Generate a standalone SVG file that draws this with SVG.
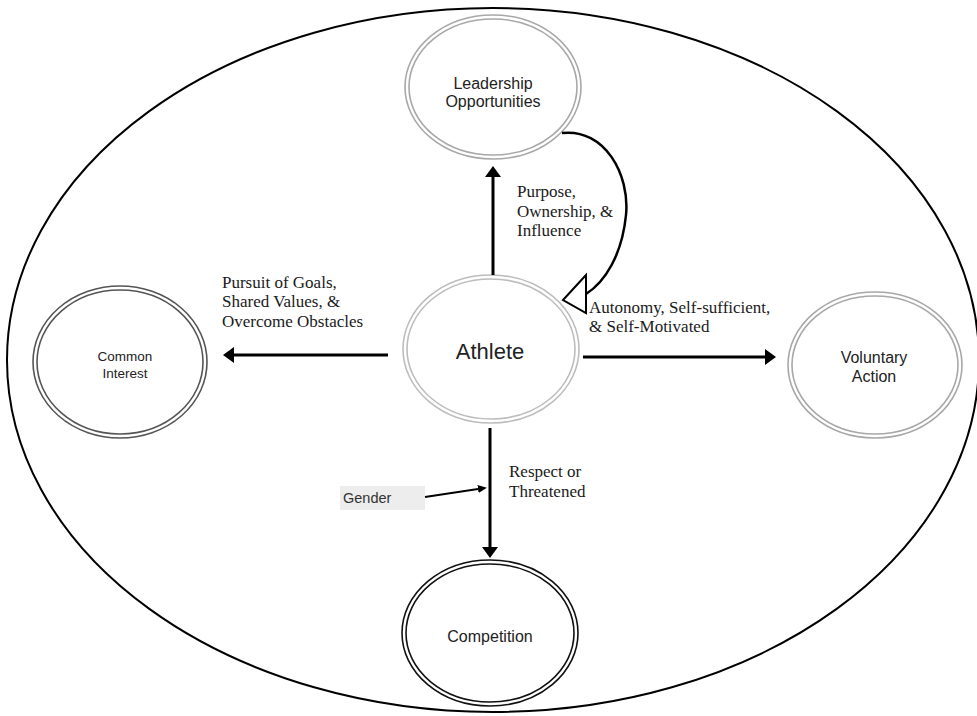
<svg xmlns="http://www.w3.org/2000/svg" width="977" height="716" viewBox="0 0 977 716">
<style>
.sans{font-family:"Liberation Sans",Arial,sans-serif;fill:#222;text-anchor:middle}
.serif{font-family:"Liberation Serif","Times New Roman",serif;fill:#1a1a1a;font-size:17px}
.ring{fill:none;stroke-width:1.6}
.light{stroke:#a8a8a8}
.lighter{stroke:#bdbdbd}
.dark{stroke:#555}
.black{stroke:#111}
.conn{stroke:#000;stroke-width:3;fill:none}
</style>
<defs>
<marker id="ah" markerUnits="userSpaceOnUse" markerWidth="11" markerHeight="16" refX="0" refY="8" orient="auto">
<path d="M0,0 L11,8 L0,16 z" fill="#000"/>
</marker>
<marker id="ahs" markerUnits="userSpaceOnUse" markerWidth="9" markerHeight="8" refX="0" refY="4" orient="auto">
<path d="M0,0 L9,4 L0,8 z" fill="#000"/>
</marker>
</defs>
<rect width="977" height="716" fill="#fff"/>
<g id="boundary">
<ellipse cx="493" cy="360" rx="486" ry="352" fill="none" stroke="#000" stroke-width="2"/>
</g>
<g id="leadership">
<ellipse class="ring light" cx="493" cy="87" rx="88" ry="72"/>
<ellipse class="ring light" cx="493" cy="87" rx="84" ry="68"/>
<text class="sans" font-size="16" x="493" y="89">Leadership</text>
<text class="sans" font-size="16" x="493" y="107">Opportunities</text>
</g>
<g id="athlete">
<ellipse class="ring lighter" cx="491" cy="349" rx="88" ry="74"/>
<ellipse class="ring lighter" cx="491" cy="349" rx="84" ry="70"/>
<text class="sans" font-size="22" x="490" y="359">Athlete</text>
</g>
<g id="common-interest">
<ellipse class="ring dark" cx="120" cy="362" rx="87" ry="76"/>
<ellipse class="ring dark" cx="120" cy="362" rx="83" ry="72"/>
<text class="sans" font-size="13.5" x="125" y="361">Common</text>
<text class="sans" font-size="13.5" x="125" y="378">Interest</text>
</g>
<g id="voluntary-action">
<ellipse class="ring light" cx="875" cy="365" rx="87" ry="73"/>
<ellipse class="ring light" cx="875" cy="365" rx="83" ry="69"/>
<text class="sans" font-size="16" x="874" y="363">Voluntary</text>
<text class="sans" font-size="16" x="874" y="382">Action</text>
</g>
<g id="competition">
<ellipse class="ring black" cx="490" cy="633" rx="88" ry="73"/>
<ellipse class="ring black" cx="490" cy="633" rx="84" ry="69"/>
<text class="sans" font-size="16" x="490" y="642">Competition</text>
</g>
<g id="gender">
<rect x="340" y="486" width="85" height="24" fill="#ededed"/>
<text font-family="'Liberation Sans',Arial,sans-serif" font-size="14.5" fill="#333" x="343" y="503">Gender</text>
</g>
<g id="connectors">
<line class="conn" x1="493" y1="275" x2="493" y2="177" marker-end="url(#ah)"/>
<line class="conn" x1="388" y1="355" x2="234" y2="355" marker-end="url(#ah)"/>
<line class="conn" x1="583" y1="357" x2="765" y2="357" marker-end="url(#ah)"/>
<line class="conn" x1="490" y1="428" x2="490" y2="547" marker-end="url(#ah)"/>
<line x1="425" y1="497" x2="478" y2="489" stroke="#000" stroke-width="1.8" marker-end="url(#ahs)"/>
<path class="conn" style="stroke-width:2.5" d="M562,133 C605,128 630,175 626,215 C622,255 605,282 586,294"/>
<polygon points="586,275 563,300 586,313" fill="#fff" stroke="#000" stroke-width="2" stroke-linejoin="miter"/>
</g>
<g id="labels">
<text class="serif" x="517" y="197">Purpose,</text>
<text class="serif" x="517" y="217">Ownership, &amp;</text>
<text class="serif" x="517" y="236">Influence</text>
<text class="serif" x="222" y="288">Pursuit of Goals,</text>
<text class="serif" x="222" y="307">Shared Values, &amp;</text>
<text class="serif" x="222" y="327">Overcome Obstacles</text>
<text class="serif" x="589" y="313">Autonomy, Self-sufficient,</text>
<text class="serif" x="589" y="332">&amp; Self-Motivated</text>
<text class="serif" x="509" y="477">Respect or</text>
<text class="serif" x="509" y="497">Threatened</text>
</g>
</svg>
